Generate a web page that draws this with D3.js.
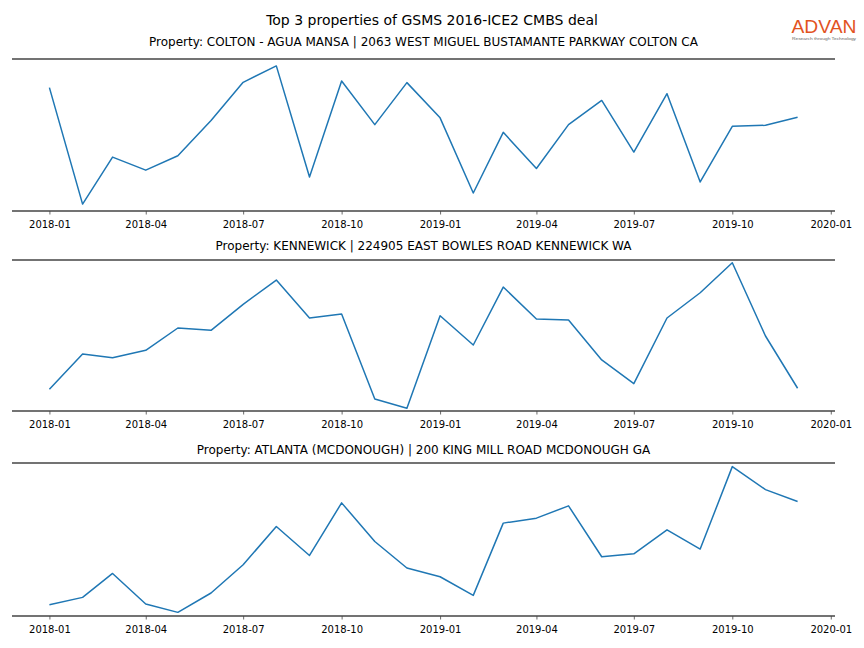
<!DOCTYPE html>
<html>
<head>
<meta charset="utf-8">
<script src="https://cdn.jsdelivr.net/npm/d3@7"></script>
<style>
  body { margin: 0; background: #fff; }
  svg { display: block; font-family: "DejaVu Sans", sans-serif; }
</style>
</head>
<body>
<svg id="chart" width="864" height="648"></svg>
<script>
const months = ["2018-01","2018-02","2018-03","2018-04","2018-05","2018-06","2018-07","2018-08","2018-09","2018-10","2018-11","2018-12",
                "2019-01","2019-02","2019-03","2019-04","2019-05","2019-06","2019-07","2019-08","2019-09","2019-10","2019-11","2019-12"];
const coltonValues = [1227, 70, 537, 407, 550, 900, 1280, 1443, 340, 1293, 860, 1277, 927, 180, 783, 423, 860, 1100, 587, 1167, 290, 843, 853, 933];
const kennewickValues = [217, 570, 533, 607, 830, 807, 1067, 1310, 930, 970, 120, 27, 953, 660, 1240, 920, 910, 510, 273, 930, 1183, 1483, 750, 227];
const atlantaValues = [110, 183, 423, 117, 33, 227, 510, 893, 603, 1130, 743, 477, 390, 203, 927, 977, 1100, 590, 620, 860, 667, 1493, 1263, 1143];
const propertyTitles = [
  "Property: COLTON - AGUA MANSA | 2063 WEST MIGUEL BUSTAMANTE PARKWAY COLTON CA",
  "Property: KENNEWICK | 224905 EAST BOWLES ROAD KENNEWICK WA",
  "Property: ATLANTA (MCDONOUGH) | 200 KING MILL ROAD MCDONOUGH GA"
];
const mainTitle = "Top 3 properties of GSMS 2016-ICE2 CMBS deal";
const seriesList = [coltonValues, kennewickValues, atlantaValues];

const svg = d3.select("#chart");
const parse = d3.utcParse("%Y-%m");
const dates = months.map(parse);

const left = 12, right = 835;
const panels = [
  {top: 59, bottom: 211, titleY: 46, pad: 0.05},
  {top: 260, bottom: 411, titleY: 250, pad: 0.019},
  {top: 463, bottom: 616, titleY: 454, pad: 0.025}
];

const dExt = d3.extent(dates);
const span = dExt[1] - dExt[0];
const x = d3.scaleUtc()
  .domain([new Date(+dExt[0] - span * 0.05), new Date(+dExt[1] + span * 0.05)])
  .range([left, right]);

svg.append("text").attr("x", 432).attr("y", 25).attr("text-anchor", "middle")
  .attr("font-size", 14).attr("fill", "#000").text(mainTitle);

// Logo
const logo = svg.append("g");
logo.append("text").attr("x", 824).attr("y", 33).attr("text-anchor", "middle")
  .attr("font-family", "Liberation Sans, Arial, sans-serif").attr("font-size", 19)
  .attr("fill", "#e2531f").attr("textLength", 65).attr("lengthAdjust", "spacingAndGlyphs").text("ADVAN");
logo.append("text").attr("x", 824).attr("y", 40).attr("text-anchor", "middle")
  .attr("font-family", "Liberation Sans, Arial, sans-serif").attr("font-size", 4)
  .attr("fill", "#666").attr("textLength", 64).attr("lengthAdjust", "spacingAndGlyphs").text("Research through Technology");

seriesList.forEach((vals, i) => {
  const p = panels[i];
  const ext = d3.extent(vals);
  const r = ext[1] - ext[0];
  const y = d3.scaleLinear().domain([ext[0] - r * p.pad, ext[1] + r * p.pad]).range([p.bottom, p.top]);
  const g = svg.append("g");

  g.append("text").attr("x", (left + right) / 2).attr("y", p.titleY).attr("text-anchor", "middle")
    .attr("font-size", 12).attr("fill", "#000").text(propertyTitles[i]);

  const line = d3.line().x((d, j) => x(dates[j])).y(d => y(d));
  g.append("path").datum(vals).attr("d", line).attr("fill", "none")
    .attr("stroke", "#1f77b4").attr("stroke-width", 1.5).attr("stroke-linejoin", "round");

  const axis = d3.axisBottom(x).ticks(d3.utcMonth.every(3)).tickFormat(d3.utcFormat("%Y-%m"))
    .tickSize(3.5).tickPadding(6);
  const ax = g.append("g").attr("transform", `translate(0,${p.bottom})`).call(axis);
  ax.select(".domain").remove();
  ax.selectAll(".tick line").attr("stroke", "#444").attr("stroke-width", 0.8);
  ax.selectAll(".tick text").attr("font-size", 10).attr("fill", "#000").attr("font-family", "DejaVu Sans, sans-serif");

  g.append("line").attr("x1", left).attr("x2", right).attr("y1", p.top).attr("y2", p.top)
    .attr("stroke", "#444").attr("stroke-width", 1.6);
  g.append("line").attr("x1", left).attr("x2", right).attr("y1", p.bottom).attr("y2", p.bottom)
    .attr("stroke", "#444").attr("stroke-width", 1.6);
});
</script>
</body>
</html>
